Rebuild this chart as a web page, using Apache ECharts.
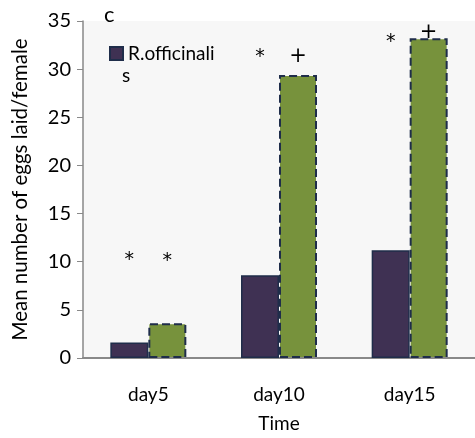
<!DOCTYPE html>
<html><head><meta charset="utf-8">
<script src="https://cdn.jsdelivr.net/npm/echarts@6/dist/echarts.min.js"></script>
<style>html,body{margin:0;padding:0;background:#fff}#c{width:475px;height:438px}</style>
</head><body><div id="c"></div>
<script>
const categories = ['day5', 'day10', 'day15'];
const purpleValues = [1.6, 8.6, 11.2];
const greenValues = [3.6, 29.4, 33.2];
const purpleMarks = ['*', '*', '*'];
const purpleMarkY = [10.2, 31.3, 32.8];
const greenMarks = ['*', '+', '+'];
const greenMarkY = [10.1, 31.3, 33.8];
const yTicks = [0, 5, 10, 15, 20, 25, 30, 35];
const legendLines = ['R.officinali', 's'];

const FONT = 'Lato';
function marks(labels, ys) {
  return labels.map((t, i) => ({
    coord: [i, ys[i]],
    symbol: 'circle', symbolSize: 0,
    label: { show: true, formatter: t, position: 'inside', color: '#000', fontSize: t === '*' ? 19 : 21, fontFamily: 'DejaVu Sans' }
  }));
}
const chart = echarts.init(document.getElementById('c'));
chart.setOption({
  animation: false,
  textStyle: { fontFamily: FONT },
  title: { text: 'c', left: 99, top: -1, textStyle: { fontSize: 22, fontWeight: 'normal', color: '#000', fontFamily: FONT } },
  grid: { left: 83, top: 21, bottom: 78, right: -6, show: true, backgroundColor: '#f7f7f7', borderWidth: 0 },
  legend: {
    data: ['R.officinalis'], left: 104, top: 39, icon: 'rect', itemWidth: 13, itemHeight: 13, itemGap: 4,
    formatter: () => legendLines[0],
    textStyle: { fontSize: 19, color: '#000', fontFamily: FONT }
  },
  graphic: [{
    type: 'text', left: 122, top: 66,
    style: { text: legendLines[1], fontSize: 19, fill: '#000', fontFamily: FONT }
  }],
  xAxis: {
    type: 'category', data: categories,
    name: 'Time', nameLocation: 'middle', nameGap: 56,
    nameTextStyle: { fontSize: 19, color: '#000', fontFamily: FONT },
    axisLine: { lineStyle: { color: '#898989', width: 2 } },
    axisTick: { show: false },
    axisLabel: { fontSize: 19, color: '#000', margin: 27, fontFamily: FONT }
  },
  yAxis: {
    type: 'value', min: yTicks[0], max: yTicks[yTicks.length - 1], interval: 5,
    name: 'Mean number of eggs laid/female', nameLocation: 'middle', nameGap: 52,
    nameTextStyle: { fontSize: 20.5, color: '#000', fontFamily: FONT },
    axisLine: { show: true, lineStyle: { color: '#898989', width: 1.5 } },
    axisTick: { show: true, length: 6, lineStyle: { color: '#898989' } },
    splitLine: { show: false },
    axisLabel: { fontSize: 20, color: '#000', margin: 12, fontFamily: FONT }
  },
  series: [
    {
      name: 'R.officinalis', type: 'bar', data: purpleValues, barWidth: 38, barGap: 0,
      itemStyle: { color: '#3f3153', borderColor: '#1f2d4a', borderWidth: 1.5 },
      markPoint: { data: marks(purpleMarks, purpleMarkY) }
    },
    {
      name: 'other', type: 'bar', data: greenValues, barWidth: 38, barGap: 0,
      itemStyle: { color: '#77923c', borderColor: '#1f2d4a', borderWidth: 2, borderType: 'dashed' },
      markPoint: { data: marks(greenMarks, greenMarkY) }
    }
  ]
});
</script></body></html>
